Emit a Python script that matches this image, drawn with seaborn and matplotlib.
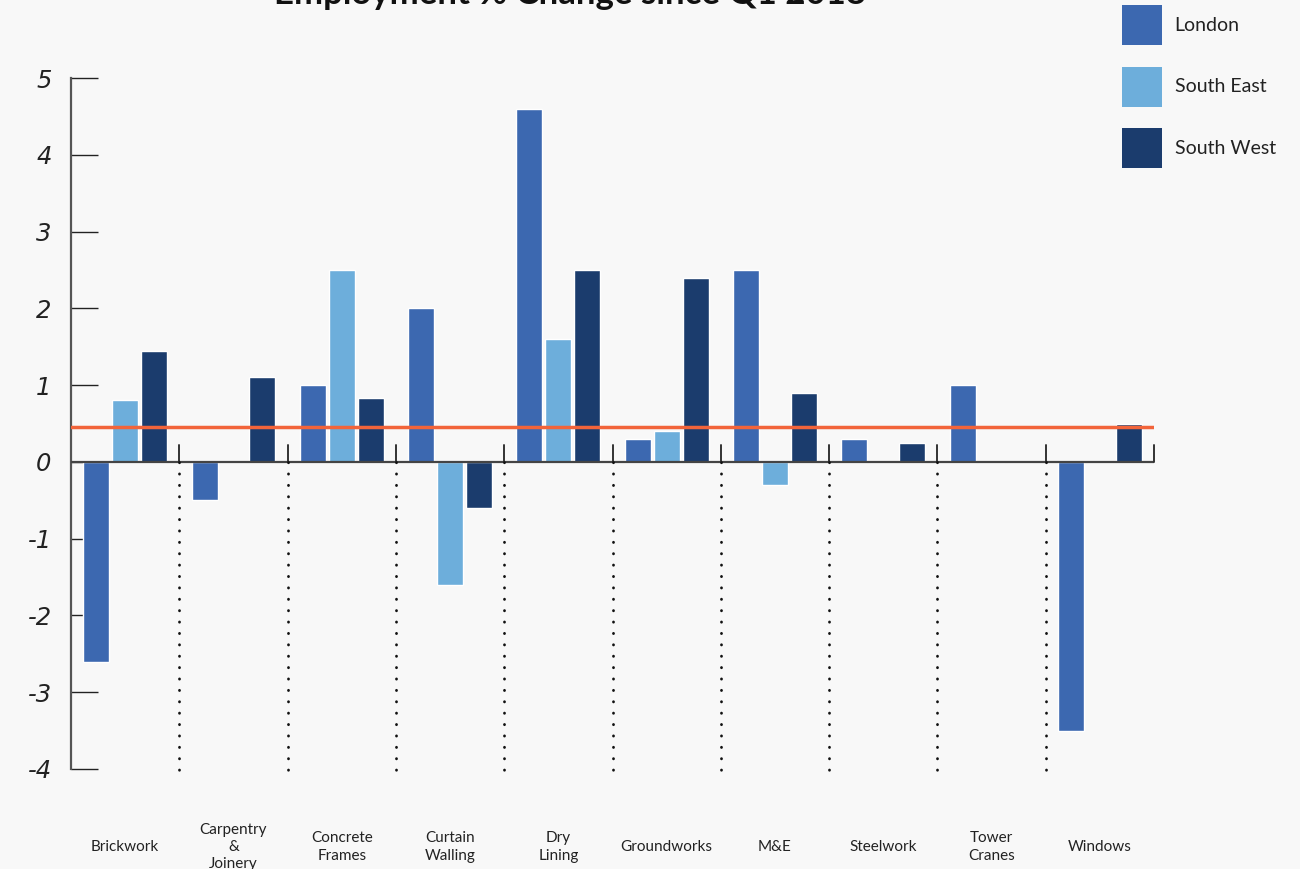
import matplotlib
matplotlib.use("Agg")
import matplotlib.pyplot as plt
import matplotlib.transforms as mtransforms
from matplotlib.patches import Patch
import seaborn as sns
import pandas as pd

categories = ["Brickwork", "Carpentry\n&\nJoinery", "Concrete\nFrames", "Curtain\nWalling",
              "Dry\nLining", "Groundworks", "M&E", "Steelwork", "Tower\nCranes", "Windows"]
regions = ["London", "South East", "South West"]
london = [-2.6, -0.5, 1.0, 2.0, 4.6, 0.3, 2.5, 0.3, 1.0, -3.5]
south_east = [0.8, 0.0, 2.5, -1.6, 1.6, 0.4, -0.3, 0.0, 0.0, 0.0]
south_west = [1.45, 1.1, 0.83, -0.6, 2.5, 2.4, 0.9, 0.25, 0.0, 0.5]
average_line = 0.45
y_ticks = [-4, -3, -2, -1, 0, 1, 2, 3, 4, 5]
title = "Employment % Change since Q1 2018"

colors = ["#3c68b0", "#6daedb", "#1b3c6d"]
bg = "#f8f8f8"

rows = []
for series, name in zip([london, south_east, south_west], regions):
    for c, v in zip(categories, series):
        rows.append({"category": c, "region": name, "value": v})
df = pd.DataFrame(rows)

sns.set_theme(style="white")
plt.rcParams["font.family"] = ["Lato", "DejaVu Sans"]

fig = plt.figure(figsize=(13, 8.69), dpi=100, facecolor=bg)
ax = fig.add_axes([71 / 1300, 1 - 769 / 869, (1154 - 71) / 1300, 691 / 869])
ax.set_facecolor(bg)

sns.barplot(data=df, x="category", y="value", hue="region", hue_order=regions,
            palette=colors, width=0.8, gap=0.1, ax=ax, legend=False,
            saturation=1, errorbar=None)

ax.set_xlim(-0.5, len(categories) - 0.5)
ax.set_ylim(-4, 5)
ax.set_yticks(y_ticks)
ax.set_yticklabels([str(t) for t in y_ticks], fontstyle="italic",
                   fontsize=17.5, family="DejaVu Sans", color="#222222")
ax.tick_params(axis="y", direction="in", length=19.5, width=1.0, color="#222222", pad=14,
               left=True)
ax.tick_params(axis="x", bottom=False, labelbottom=False)
ax.set_xlabel("")
ax.set_ylabel("")
for s in ["top", "right", "bottom"]:
    ax.spines[s].set_visible(False)
ax.spines["left"].set_color("#555555")
ax.spines["left"].set_linewidth(1.6)

# zero axis
ax.axhline(0, color="#444444", linewidth=1.6, zorder=3)
# separators
for i in range(len(categories)):
    xpos = i + 0.5
    ax.plot([xpos, xpos], [0, 0.22], color="#333333", linewidth=1.4, zorder=3, clip_on=False)
    if i < len(categories) - 1:
        ax.plot([xpos, xpos], [0, -4.08], color="#111111", linewidth=2,
                linestyle=(0, (0.1, 4)), dash_capstyle="round", zorder=3, clip_on=False)

# average line
ax.axhline(average_line, color="#f2643a", linewidth=2.5, zorder=4)

# category labels
trans = mtransforms.blended_transform_factory(ax.transData, fig.transFigure)
for i, c in enumerate(categories):
    ax.text(i, 1 - 847 / 869, c, transform=trans, ha="center", va="center",
            fontsize=11, color="#222222", linespacing=1.3)

# title (cropped at top)
fig.text(570 / 1300, 1 - 4 / 869, title, ha="center", va="baseline",
         fontsize=25, fontweight="bold", color="#111111")

handles = [Patch(facecolor=c, edgecolor="none", label=r) for c, r in zip(colors, regions)]
fig.legend(handles=handles, loc="upper left",
           bbox_to_anchor=(1122 / 1300, 1 - 5 / 869), bbox_transform=fig.transFigure,
           frameon=False, fontsize=14, handlelength=2.06, handleheight=2.8,
           labelspacing=1.1, handletextpad=0.65, borderpad=0, borderaxespad=0,
           labelcolor="#222222")

fig.savefig("out.png", dpi=100, facecolor=bg)
